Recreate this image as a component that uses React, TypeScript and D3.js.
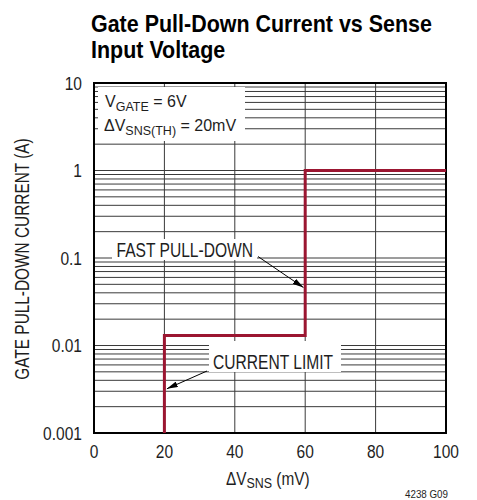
import React from "react";
import * as d3 from "d3";

const xTicks = [0, 20, 40, 60, 80, 100];
const xTickLabels = ["0", "20", "40", "60", "80", "100"];
const yTicks = [0.001, 0.01, 0.1, 1, 10];
const yTickLabels = ["0.001", "0.01", "0.1", "1", "10"];
const stepX = [20, 20, 60, 60, 100];
const stepY = [0.001, 0.013, 0.013, 1, 1];

const W = 477;
const H = 500;
const FONT = "'Liberation Sans', Arial, sans-serif";
const RED = "#9b1631";
const GRID = "#3a3a3a";
const INK = "#1e1e1e";

function T(props: {
  x: number;
  y: number;
  sx?: number;
  rot?: number;
  size: number;
  anchor?: string;
  weight?: string;
  fill?: string;
  children: React.ReactNode;
}) {
  const { x, y, sx = 1, rot = 0, size, anchor = "start", weight = "normal", fill = INK, children } = props;
  return (
    <text
      transform={`translate(${x},${y}) rotate(${rot}) scale(${sx},1)`}
      x={0}
      y={0}
      fontSize={size}
      textAnchor={anchor}
      fontWeight={weight}
      fill={fill}
    >
      {children}
    </text>
  );
}

export default function App() {
  const x = d3.scaleLinear().domain([0, 100]).range([94, 446]);
  const y = d3.scaleLog().domain([0.001, 10]).range([433, 83]);
  const minor = y.ticks();
  const line = d3
    .line<[number, number]>()
    .x((d) => x(d[0]))
    .y((d) => y(d[1]));
  const pts: [number, number][] = stepX.map((v, i) => [v, stepY[i]]);

  const fpTip: [number, number] = [x(59.5), y(0.046)];
  const clTip: [number, number] = [x(20.7), y(0.0032)];

  return (
    <svg
      width={W}
      height={H}
      style={{ position: "absolute", left: 0, top: 0, background: "#fff" }}
      fontFamily={FONT}
    >
      <defs>
        <marker id="arr" viewBox="0 0 11 6" refX="11" refY="3" markerWidth="11" markerHeight="6" markerUnits="userSpaceOnUse" orient="auto">
          <path d="M0,0 L11,3 L0,6 Z" fill="#000" />
        </marker>
      </defs>
      <rect x={0} y={0} width={W} height={H} fill="#fff" />
      {/* title */}
      <T x={91} y={32} size={23.5} sx={0.913} weight="bold" fill="#000">
        Gate Pull-Down Current vs Sense
      </T>
      <T x={91} y={58} size={23.5} sx={0.913} weight="bold" fill="#000">
        Input Voltage
      </T>

      {/* grid */}
      <g>
        {minor.map((t, i) => (
          <line key={"h" + i} x1={x(0)} x2={x(100)} y1={y(t)} y2={y(t)} stroke={GRID} strokeWidth={1} />
        ))}
        {xTicks.slice(1, -1).map((t) => (
          <line key={"v" + t} x1={x(t)} x2={x(t)} y1={y(10)} y2={y(0.001)} stroke={GRID} strokeWidth={1} />
        ))}
      </g>

      {/* label backgrounds */}
      <rect x={98} y={87} width={147} height={54} fill="#fff" />
      <rect x={112} y={239} width={145} height={21} fill="#fff" />
      <rect x={209} y={341} width={132} height={31} fill="#fff" />

      {/* frame */}
      <rect x={x(0)} y={y(10)} width={x(100) - x(0)} height={y(0.001) - y(10)} fill="none" stroke="#000" strokeWidth={2} />

      {/* data */}
      <path d={line(pts) || ""} fill="none" stroke={RED} strokeWidth={3} strokeLinejoin="miter" />

      {/* ticks */}
      {yTicks.map((t, i) => (
        <T key={"yt" + t} x={82} y={y(t) + 6.5} size={18.5} sx={0.84} anchor="end">
          {yTickLabels[i]}
        </T>
      ))}
      {xTicks.map((t, i) => (
        <T key={"xt" + t} x={x(t)} y={458.3} size={18.5} sx={0.84} anchor="middle">
          {xTickLabels[i]}
        </T>
      ))}

      {/* axis titles */}
      <T x={29.3} y={259} rot={-90} size={20} sx={0.77} anchor="middle">
        GATE PULL-DOWN CURRENT (A)
      </T>
      <T x={226} y={485} size={18.5} sx={0.83}>
        ΔV<tspan dy={3} fontSize={15}>SNS</tspan>
        <tspan dy={-3}> (mV)</tspan>
      </T>
      <T x={448} y={498} size={10} sx={0.98} anchor="end">
        4238 G09
      </T>

      {/* annotations */}
      <T x={105} y={107.3} size={16}>
        V<tspan dy={3.5} fontSize={12.5}>GATE</tspan>
        <tspan dy={-3.5}> = 6V</tspan>
      </T>
      <T x={104} y={130.7} size={16}>
        ΔV<tspan dy={3.8} fontSize={12.5}>SNS(TH)</tspan>
        <tspan dy={-3.8}> = 20mV</tspan>
      </T>
      <T x={116.5} y={256.7} size={19.5} sx={0.8}>
        FAST PULL-DOWN
      </T>
      <line x1={258} y1={256.5} x2={fpTip[0]} y2={fpTip[1]} stroke="#000" strokeWidth={1} markerEnd="url(#arr)" />
      <T x={213} y={369} size={19.5} sx={0.8}>
        CURRENT LIMIT
      </T>
      <line x1={207} y1={371} x2={clTip[0]} y2={clTip[1]} stroke="#000" strokeWidth={1} markerEnd="url(#arr)" />
    </svg>
  );
}
